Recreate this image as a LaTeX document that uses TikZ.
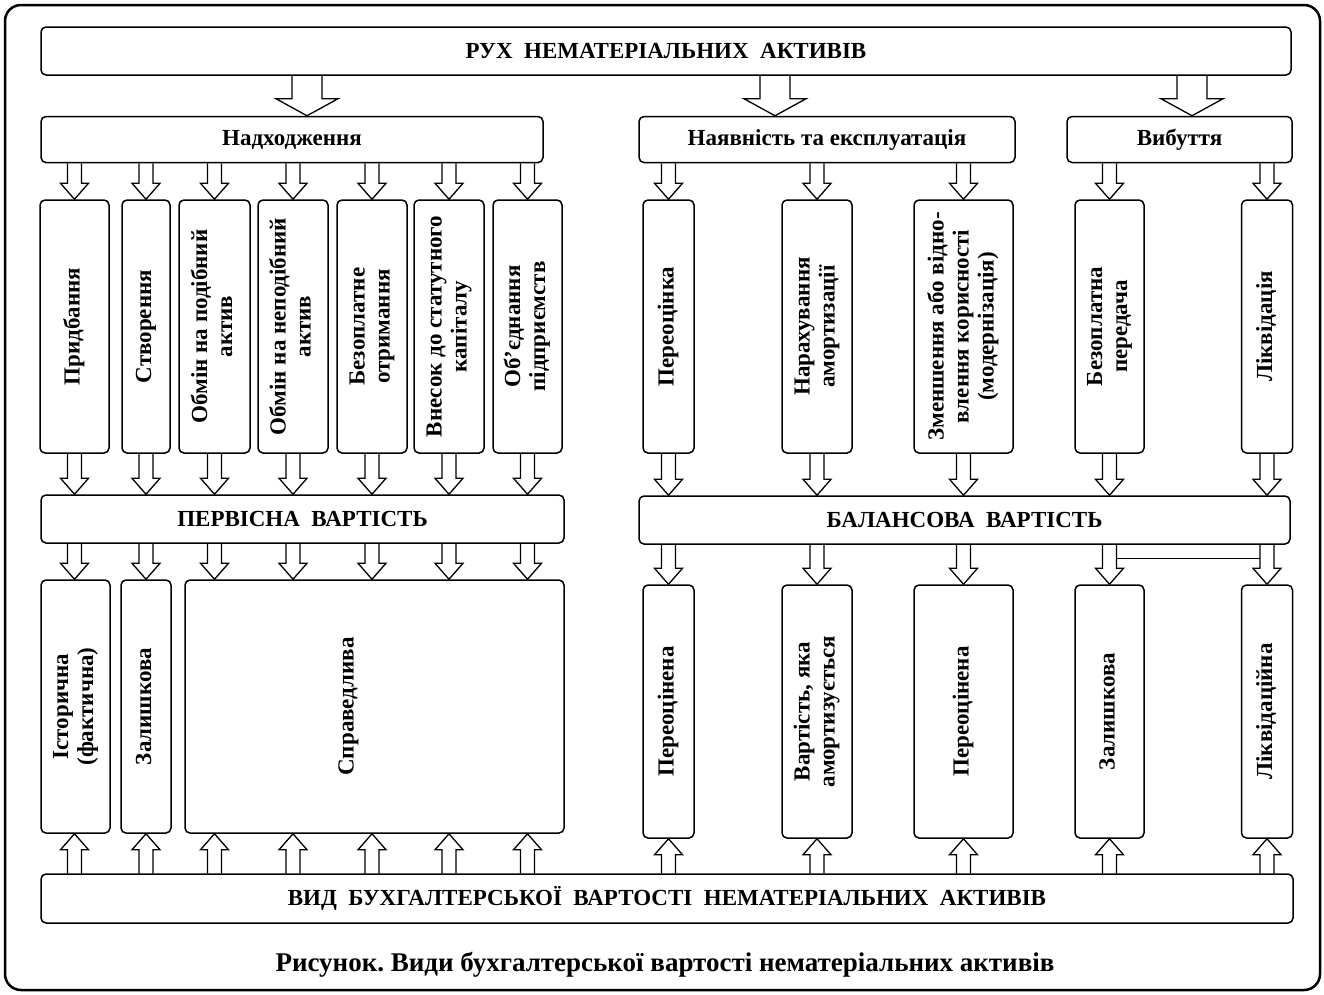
\documentclass[tikz,border=0pt]{standalone}
\usepackage{fontspec}
\setmainfont{Liberation Serif}
\usepackage{graphicx}
\usetikzlibrary{calc}
\frenchspacing

\newcommand{\vtext}[1]{\rotatebox{90}{\begin{tabular}{@{}c@{}}#1\end{tabular}}}
\newcommand{\shaftw}{7pt}
\newcommand{\headw}{14pt}
\newcommand{\headl}{16pt}

\begin{document}
\begin{tikzpicture}[
    x=1pt, y=1pt,
    box/.style={draw, rounded corners=5pt, line width=1.5pt, inner sep=0pt, font=\fontsize{23}{25}\selectfont\bfseries},
    headbox/.style={box, minimum height=46pt},
    colbox/.style={box, minimum height=253pt},
    fat/.style={draw, line width=1.3pt, to path={let \p1=(\tikztostart), \p2=(\tikztotarget) in
        (\x1-\shaftw,\y1) -- (\x1-\shaftw,{\y2+\headl*(\y1-\y2)/abs(\y1-\y2)})
        -- (\x1-\headw,{\y2+\headl*(\y1-\y2)/abs(\y1-\y2)}) -- (\x1,\y2)
        -- (\x1+\headw,{\y2+\headl*(\y1-\y2)/abs(\y1-\y2)})
        -- (\x1+\shaftw,{\y2+\headl*(\y1-\y2)/abs(\y1-\y2)}) -- (\x1+\shaftw,\y1)}},
    bigfat/.style={fat, /utils/exec={\renewcommand{\shaftw}{15pt}\renewcommand{\headw}{31pt}\renewcommand{\headl}{17pt}}}
  ]
    \useasboundingbox (0,0) rectangle (1324,-994);
    \draw[line width=2.5pt, rounded corners=16pt] (5,-5) rectangle (1320,-990);

    % Movement
    \node[headbox, minimum width=1250pt, minimum height=48pt] (ruh) at (666,-51) {РУХ\ \ НЕМАТЕРІАЛЬНИХ\ \ АКТИВІВ};
    \node[headbox, minimum width=502pt] (nadh) at (292,-139.5) {Надходження};
    \node[headbox, minimum width=376pt] (nayav) at (827,-139.5) {Наявність та експлуатація};
    \node[headbox, minimum width=225pt] (vybut) at (1179.5,-139.5) {Вибуття};

    % Receipt
    \node[colbox, minimum width=69pt] (p1) at (74.5,-326.5) {\vtext{Придбання}};
    \node[colbox, minimum width=48pt] (p2) at (146,-326.5) {\vtext{Створення}};
    \node[colbox, minimum width=71pt] (p3) at (214.5,-326.5) {\vtext{Обмін на подібний\\актив}};
    \node[colbox, minimum width=70pt] (p4) at (293,-326.5) {\vtext{Обмін на неподібний\\актив}};
    \node[colbox, minimum width=70pt] (p5) at (372,-326.5) {\vtext{Безоплатне\\отримання}};
    \node[colbox, minimum width=70pt] (p6) at (449,-326.5) {\vtext{Внесок до статутного\\капіталу}};
    \node[colbox, minimum width=69pt] (p7) at (527.5,-326.5) {\vtext{Об’єднання\\підприємств}};

    % Use
    \node[colbox, minimum width=51pt] (e1) at (668.5,-326.5) {\vtext{Переоцінка}};
    \node[colbox, minimum width=70pt] (e2) at (817,-326.5) {\vtext{Нарахування\\амортизації}};
    \node[colbox, minimum width=99pt] (e3) at (963.5,-326.5) {\vtext{Зменшення або відно-\\влення корисності\\(модернізація)}};

    % Disposal
    \node[colbox, minimum width=69pt] (v1) at (1109.5,-326.5) {\vtext{Безоплатна\\передача}};
    \node[colbox, minimum width=51pt] (v2) at (1267,-326.5) {\vtext{Ліквідація}};

    % Values
    \node[headbox, minimum width=523pt, minimum height=48pt] (perv) at (302.5,-519) {ПЕРВІСНА\ \ ВАРТІСТЬ};
    \node[headbox, minimum width=651pt, minimum height=48pt] (bal) at (964.5,-520) {БАЛАНСОВА\ \ ВАРТІСТЬ};

    \node[colbox, minimum width=69pt] (k1) at (75.5,-706.5) {\vtext{Історична\\(фактична)}};
    \node[colbox, minimum width=50pt] (k2) at (146,-706.5) {\vtext{Залишкова}};
    \node[colbox, minimum width=379pt] (k3) at (374.5,-706.5) {\vtext{Справедлива}\hspace*{52pt}};

    \node[colbox, minimum width=51pt] (b1) at (668.5,-711.5) {\vtext{Переоцінена}};
    \node[colbox, minimum width=70pt] (b2) at (817,-711.5) {\vtext{Вартість, яка\\амортизується}};
    \node[colbox, minimum width=99pt] (b3) at (963.5,-711.5) {\vtext{Переоцінена}};
    \node[colbox, minimum width=69pt] (b4) at (1109.5,-711.5) {\vtext{Залишкова}};
    \node[colbox, minimum width=51pt] (b5) at (1267,-711.5) {\vtext{Ліквідаційна}};

    \node[headbox, minimum width=1252pt, minimum height=49pt] (vyd) at (667,-898.5) {ВИД\ \ БУХГАЛТЕРСЬКОЇ\ \ ВАРТОСТІ\ \ НЕМАТЕРІАЛЬНИХ\ \ АКТИВІВ};

    \node[font=\fontsize{27}{29}\selectfont\bfseries] (cap) at (665,-965) {Рисунок. Види бухгалтерської вартості нематеріальних активів};

    % Arrows
    \draw[bigfat] ([xshift=15pt]ruh.south -| nadh.north) to ([xshift=15pt]nadh.north);
    \draw[bigfat] ([xshift=-52pt]ruh.south -| nayav.north) to ([xshift=-52pt]nayav.north);
    \draw[bigfat] ([xshift=12.5pt]ruh.south -| vybut.north) to ([xshift=12.5pt]vybut.north);

    \draw[fat] (nadh.south -| p1.north) to (p1.north);
    \draw[fat] (nadh.south -| p2.north) to (p2.north);
    \draw[fat] (nadh.south -| p3.north) to (p3.north);
    \draw[fat] (nadh.south -| p4.north) to (p4.north);
    \draw[fat] (nadh.south -| p5.north) to (p5.north);
    \draw[fat] (nadh.south -| p6.north) to (p6.north);
    \draw[fat] (nadh.south -| p7.north) to (p7.north);
    \draw[fat] (nayav.south -| e1.north) to (e1.north);
    \draw[fat] (nayav.south -| e2.north) to (e2.north);
    \draw[fat] (nayav.south -| e3.north) to (e3.north);
    \draw[fat] (vybut.south -| v1.north) to (v1.north);
    \draw[fat] (vybut.south -| v2.north) to (v2.north);

    \draw[fat] (p1.south) to (perv.north -| p1.south);
    \draw[fat] (p2.south) to (perv.north -| p2.south);
    \draw[fat] (p3.south) to (perv.north -| p3.south);
    \draw[fat] (p4.south) to (perv.north -| p4.south);
    \draw[fat] (p5.south) to (perv.north -| p5.south);
    \draw[fat] (p6.south) to (perv.north -| p6.south);
    \draw[fat] (p7.south) to (perv.north -| p7.south);
    \draw[fat] (e1.south) to (bal.north -| e1.south);
    \draw[fat] (e2.south) to (bal.north -| e2.south);
    \draw[fat] (e3.south) to (bal.north -| e3.south);
    \draw[fat] (v1.south) to (bal.north -| v1.south);
    \draw[fat] (v2.south) to (bal.north -| v2.south);

    \draw[fat] (perv.south -| p1.south) to (k1.north -| p1.south);
    \draw[fat] (perv.south -| p2.south) to (k2.north -| p2.south);
    \draw[fat] (perv.south -| p3.south) to (k3.north -| p3.south);
    \draw[fat] (perv.south -| p4.south) to (k3.north -| p4.south);
    \draw[fat] (perv.south -| p5.south) to (k3.north -| p5.south);
    \draw[fat] (perv.south -| p6.south) to (k3.north -| p6.south);
    \draw[fat] (perv.south -| p7.south) to (k3.north -| p7.south);
    \draw[fat] (bal.south -| b1.north) to (b1.north);
    \draw[fat] (bal.south -| b2.north) to (b2.north);
    \draw[fat] (bal.south -| b3.north) to (b3.north);
    \draw[fat] (bal.south -| b4.north) to (b4.north);
    \draw[fat] (bal.south -| b5.north) to (b5.north);
    \draw[line width=1.3pt] ($(bal.south -| b4.north)+(7,-14)$) -- ($(bal.south -| b5.north)+(-7,-14)$);

    \draw[fat] (vyd.north -| p1.south) to (k1.south -| p1.south);
    \draw[fat] (vyd.north -| p2.south) to (k2.south -| p2.south);
    \draw[fat] (vyd.north -| p3.south) to (k3.south -| p3.south);
    \draw[fat] (vyd.north -| p4.south) to (k3.south -| p4.south);
    \draw[fat] (vyd.north -| p5.south) to (k3.south -| p5.south);
    \draw[fat] (vyd.north -| p6.south) to (k3.south -| p6.south);
    \draw[fat] (vyd.north -| p7.south) to (k3.south -| p7.south);
    \draw[fat] (vyd.north -| b1.south) to (b1.south);
    \draw[fat] (vyd.north -| b2.south) to (b2.south);
    \draw[fat] (vyd.north -| b3.south) to (b3.south);
    \draw[fat] (vyd.north -| b4.south) to (b4.south);
    \draw[fat] (vyd.north -| b5.south) to (b5.south);
\end{tikzpicture}
\end{document}
